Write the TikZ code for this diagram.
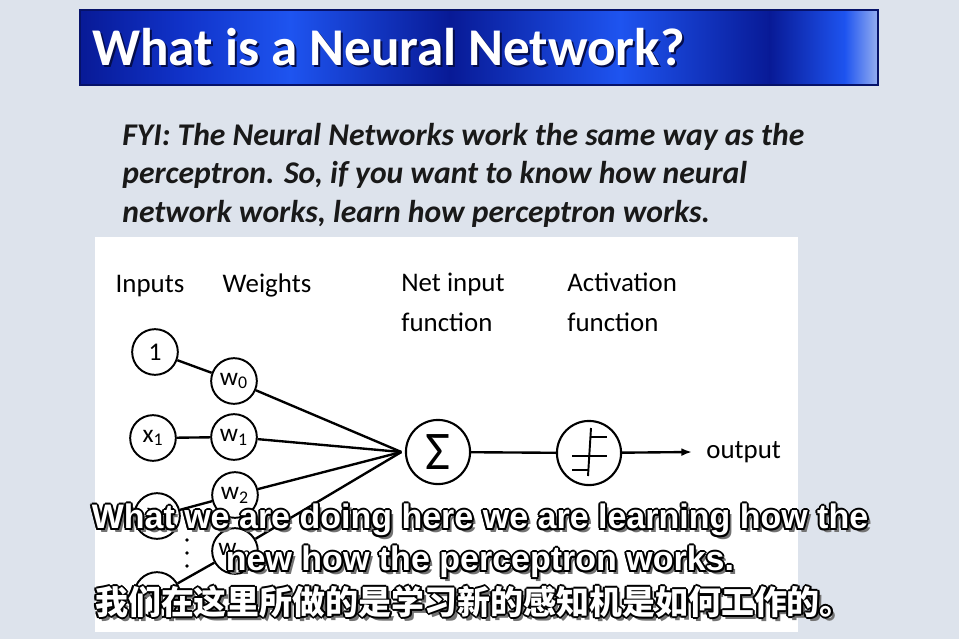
\documentclass[tikz,border=0pt]{standalone}
\usepackage{fontspec}
\setmainfont{Carlito}
\newfontfamily\subfont{Liberation Sans}
\newfontfamily\cjkfont{Noto Sans CJK SC}
\usepackage{xcolor}
\usetikzlibrary{arrows.meta,positioning}

\definecolor{slidebg}{RGB}{221,227,236}
\definecolor{bardark}{RGB}{8,26,150}
\definecolor{barmid}{RGB}{16,50,200}
\definecolor{barbright}{RGB}{30,84,240}
\definecolor{barlight}{RGB}{150,175,240}
\definecolor{fyitext}{RGB}{25,25,25}

\begin{document}
\begin{tikzpicture}[x=0.02cm, y=-0.02cm,
  unit/.style={draw, circle, line width=1.1pt, minimum size=26pt, inner sep=0pt,
               font=\fontsize{14.5pt}{16pt}\selectfont},
  bigunit/.style={draw, circle, line width=1.2pt, minimum size=36.5pt, inner sep=0pt},
  label/.style={font=\fontsize{15.3pt}{22.5pt}\selectfont, inner sep=0pt, align=left},
  link/.style={line width=1.35pt},
  subtxt/.style={font=\subfont\bfseries\fontsize{19.35pt}{20pt}\selectfont, inner sep=0pt},
  cjktxt/.style={font=\cjkfont\bfseries\fontsize{18.75pt}{20pt}\selectfont, inner sep=0pt}
]
\useasboundingbox (0,0) rectangle (959,639);
\fill[slidebg] (0,0) rectangle (959,639);

% title bar
\foreach \xa/\xb/\ca/\cb in {80/180/bardark/barmid, 180/290/barmid/barbright, 290/450/barbright/bardark,
    450/620/bardark/barbright, 620/770/barbright/bardark, 770/845/bardark/barbright, 845/878/barbright/barlight}
  \shade[left color=\ca, right color=\cb] (\xa-0.2,10) rectangle (\xb+0.2,85);
\draw[bardark!70!black, line width=0.6pt] (80,10) rectangle (878,85);
\node[anchor=base west, inner sep=0pt, text=bardark!50!black,
      font=\bfseries\fontsize{30.2pt}{31pt}\selectfont] (titleshadow) at (94,67) {What is a Neural Network?};
\node[anchor=base west, inner sep=0pt, text=white,
      font=\bfseries\fontsize{30.2pt}{31pt}\selectfont] (title) at (92,65) {What is a Neural Network?};

% note
\node[anchor=base west, inner sep=0pt, align=left, text=fyitext,
      font=\bfseries\itshape\fontsize{18pt}{21.8pt}\selectfont] (fyi) at (122,222)
  {FYI: The Neural Networks work the same way as the\\
   perceptron. So, if you want to know how neural\\
   network works, learn how perceptron works.};

% diagram panel
\fill[white] (95,237) rectangle (798,632);

\node[label, anchor=base] (inputs) at (150,292) {Inputs};
\node[label, anchor=base] (weights) at (267,292) {Weights};
\node[label, anchor=base west] (netin) at (401,331) {Net input\\function};
\node[label, anchor=base west] (activ) at (567,331) {Activation\\function};

\node[unit] (in0) at (155,352) {1};
\node[unit] (in1) at (153,438) {x\textsubscript{1}};
\node[unit] (in2) at (157,516) {x\textsubscript{2}};
\node[unit] (inm) at (157,595) {x\textsubscript{m}};
\node[unit] (w0) at (234,381) {w\textsubscript{0}};
\node[unit] (w1) at (234,437) {w\textsubscript{1}};
\node[unit] (w2) at (235,495) {w\textsubscript{2}};
\node[unit] (wm) at (235,551) {w\textsubscript{m}};
\foreach \y in {540,553,566}
  \fill (187,\y) circle (1.1pt);

\node[bigunit, font=\fontsize{31pt}{32pt}\selectfont] (sum) at (438,452) {Σ};
\node[bigunit] (act) at (589,453) {};
\node[label, anchor=west] (output) at (706,452) {output};

\foreach \a/\b in {in0/w0, in1/w1, in2/w2, inm/wm}
  \draw[link] (\a) -- (\b);
\foreach \w in {w0,w1,w2,wm}
  \draw[link] (\w) -- ([xshift=-2pt]sum.west);
\draw[link] (sum) -- (act);
\draw[link, -{Latex[length=6pt, width=4.5pt]}] (act) -- ([xshift=-8pt]output.west);

% step function inside the activation unit
\draw[line width=1.1pt] ([shift={(2,-25)}]act.center) -- ([shift={(-1,23)}]act.center);
\draw[line width=1.1pt] ([shift={(1,-16)}]act.center) -- ([shift={(18,-16)}]act.center);
\draw[line width=1.1pt] ([shift={(-17,3)}]act.center) -- ([shift={(18,3)}]act.center);
\draw[line width=1.1pt] ([shift={(-17,17)}]act.center) -- ([shift={(0,17)}]act.center);

% subtitles: shadow, outline, then fill
\foreach \dx/\dy/\col [count=\k] in {3.5/3.5/black!55, -2/0/black, 2/0/black, 0/-2/black, 0/2/black,
    -1.4/-1.4/black, 1.4/-1.4/black, -1.4/1.4/black, 1.4/1.4/black, 0/0/white} {
  \node[subtxt, text=\col] (subA\k) at (480+\dx,520+\dy) {What we are doing here we are learning how the};
  \node[subtxt, text=\col] (subB\k) at (480+\dx,562+\dy) {new how the perceptron works.};
  \node[cjktxt, text=\col] (subC\k) at (474+\dx,602+\dy) {我们在这里所做的是学习新的感知机是如何工作的。};
}
\end{tikzpicture}
\end{document}
